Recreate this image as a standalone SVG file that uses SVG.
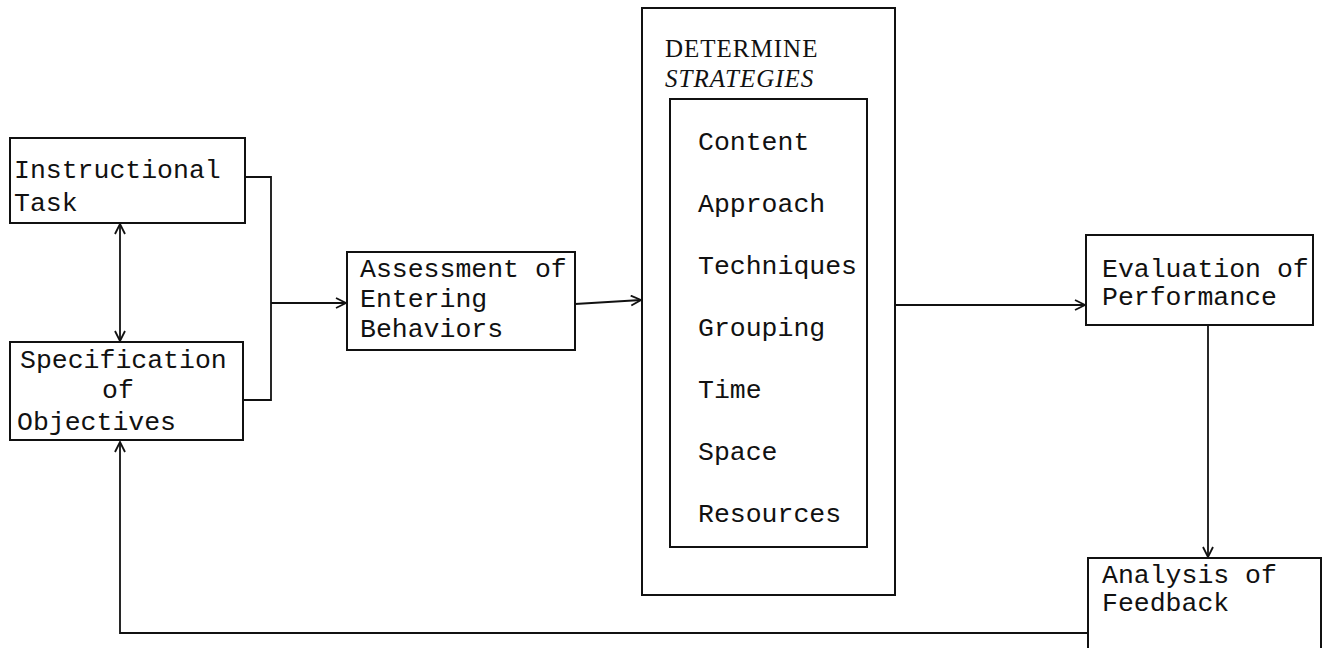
<svg xmlns="http://www.w3.org/2000/svg" width="1329" height="648" viewBox="0 0 1329 648">
  <defs>
    <style>
      .box { fill: none; stroke: #111; stroke-width: 2; }
      .wire { fill: none; stroke: #111; stroke-width: 1.8; }
      .mono { font-family: "Liberation Mono", "Courier New", monospace; font-size: 26.5px; fill: #111; }
      .serif { font-family: "Liberation Serif", "Times New Roman", serif; font-size: 25px; fill: #111; letter-spacing: 1px; }
    </style>
    <!-- open chevron arrowhead used on every connector -->
    <marker id="chev" viewBox="0 0 12 12" refX="11" refY="6" markerWidth="12" markerHeight="12" markerUnits="userSpaceOnUse" orient="auto-start-reverse">
      <path d="M1,1 L11,6 L1,11" fill="none" stroke="#111" stroke-width="1.8"/>
    </marker>
  </defs>
  <rect width="1329" height="648" fill="#fff"/>

  <g id="connectors">
    <!-- bracket joining the two left boxes -->
    <polyline class="wire" points="245,177 271,177 271,400 243,400"/>
    <line class="wire" x1="271" y1="303" x2="346" y2="303" marker-end="url(#chev)"/>
    <!-- two-way link between task and objectives -->
    <line class="wire" x1="120" y1="224" x2="120" y2="341" marker-start="url(#chev)" marker-end="url(#chev)"/>
    <line class="wire" x1="575" y1="304" x2="641" y2="300" marker-end="url(#chev)"/>
    <line class="wire" x1="895" y1="305" x2="1085" y2="305" marker-end="url(#chev)"/>
    <line class="wire" x1="1208" y1="326" x2="1208" y2="557" marker-end="url(#chev)"/>
    <!-- feedback loop back to objectives -->
    <polyline class="wire" points="1088,633 120,633 120,442" marker-end="url(#chev)"/>
  </g>

  <g id="instructional-task">
    <rect class="box" x="10" y="138" width="235" height="85"/>
    <text class="mono" x="14" y="178">Instructional</text>
    <text class="mono" x="14" y="211">Task</text>
  </g>

  <g id="specification-of-objectives">
    <rect class="box" x="10" y="342" width="233" height="98"/>
    <text class="mono" x="20" y="368">Specification</text>
    <text class="mono" x="102" y="398">of</text>
    <text class="mono" x="17" y="430">Objectives</text>
  </g>

  <g id="assessment">
    <rect class="box" x="347" y="252" width="228" height="98"/>
    <text class="mono" x="360" y="277">Assessment of</text>
    <text class="mono" x="360" y="307">Entering</text>
    <text class="mono" x="360" y="337">Behaviors</text>
  </g>

  <g id="determine-strategies">
    <rect class="box" x="642" y="8" width="253" height="587"/>
    <text class="serif" x="665" y="57">DETERMINE</text>
    <text class="serif" x="665" y="87" font-style="italic">STRATEGIES</text>
    <rect class="box" x="670" y="99" width="197" height="448"/>
    <text class="mono" x="698" y="150">Content</text>
    <text class="mono" x="698" y="212">Approach</text>
    <text class="mono" x="698" y="274">Techniques</text>
    <text class="mono" x="698" y="336">Grouping</text>
    <text class="mono" x="698" y="398">Time</text>
    <text class="mono" x="698" y="460">Space</text>
    <text class="mono" x="698" y="522">Resources</text>
  </g>

  <g id="evaluation">
    <rect class="box" x="1086" y="235" width="227" height="90"/>
    <text class="mono" x="1102" y="277">Evaluation of</text>
    <text class="mono" x="1102" y="305">Performance</text>
  </g>

  <g id="analysis">
    <path class="box" d="M1088,660 V558 H1321 V660"/>
    <text class="mono" x="1102" y="583">Analysis of</text>
    <text class="mono" x="1102" y="611">Feedback</text>
  </g>
</svg>
